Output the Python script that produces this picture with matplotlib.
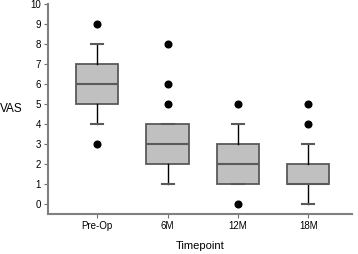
import matplotlib
matplotlib.use("Agg")
import matplotlib.pyplot as plt

plt.rcParams['font.family'] = ['Liberation Sans', 'DejaVu Sans']

categories = ["Pre-Op", "6M", "12M", "18M"]
whislo = [4, 1, 1, 0]
q1 = [5, 2, 1, 1]
med = [6, 3, 2, 1]
q3 = [7, 4, 3, 2]
whishi = [8, 4, 4, 3]
fliers = [[9, 3], [8, 6, 5], [5, 0], [5, 4]]

stats = []
for i, c in enumerate(categories):
    stats.append(dict(label=c, whislo=whislo[i], q1=q1[i], med=med[i],
                      q3=q3[i], whishi=whishi[i], fliers=fliers[i]))

fig = plt.figure(figsize=(3.58, 2.54), dpi=100)
ax = fig.add_axes([0.134, 0.157, 0.849, 0.827])

edge = '#5a5a5a'
ax.bxp(stats, positions=[1, 2, 3, 4], widths=0.6, patch_artist=True,
       boxprops=dict(facecolor='#c0c0c0', edgecolor=edge, linewidth=1.3),
       medianprops=dict(color=edge, linewidth=1.5),
       whiskerprops=dict(color='black', linewidth=1.0),
       capprops=dict(color=edge, linewidth=1.5),
       capwidths=0.17,
       flierprops=dict(marker='o', markerfacecolor='black', markeredgecolor='black',
                       markersize=4.8, linestyle='none'))

ax.set_xlim(0.3, 4.62)
ax.set_ylim(-0.5, 10)
ax.set_yticks(range(0, 11))
ax.tick_params(labelsize=7, length=3, width=0.8, color='#707070', pad=2)
for s in ['top', 'right']:
    ax.spines[s].set_visible(False)
for s in ['left', 'bottom']:
    ax.spines[s].set_color('#808080')
    ax.spines[s].set_linewidth(1.5)

ax.set_xlabel("Timepoint", fontsize=8, labelpad=7)
ax.set_ylabel("VAS", fontsize=8.5, rotation=0, labelpad=14, va='center')

fig.savefig("out.png", dpi=100)
